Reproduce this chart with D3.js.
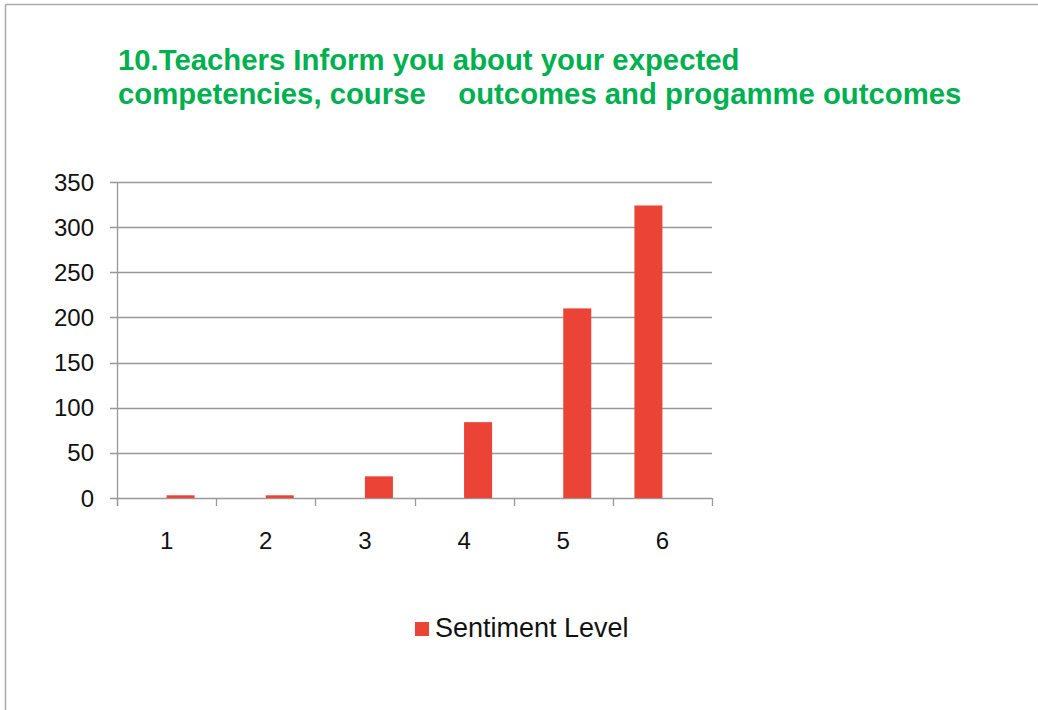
<!DOCTYPE html>
<html>
<head>
	<meta charset="utf-8" />
	<style type="text/css">
	*{margin:0px;padding:0px;}
	body{background:#fff;}
	text{font-family:"Liberation Sans", Arial, sans-serif;}
	</style>
</head>
<body>
	<script type="text/javascript" src="https://cdn.jsdelivr.net/npm/d3@7"></script>
	<script type="text/javascript">

		var categories = ["1", "2", "3", "4", "5", "6"];
		var values = [3, 3, 24, 84, 210, 324];
		var yTicks = [0, 50, 100, 150, 200, 250, 300, 350];
		var seriesName = "Sentiment Level";
		var titleLines = ["10.Teachers Inform you about your expected",
			"competencies, course    outcomes and progamme outcomes"];

		var W = 1038, H = 710;
		var svg = d3.select("body").append("svg").attr("width", W).attr("height", H);

		// outer frame (only top and left edges are visible)
		svg.append("line").attr("x1", 5.5).attr("x2", W).attr("y1", 4.5).attr("y2", 4.5)
			.attr("stroke", "#aaa").attr("stroke-width", 1.5);
		svg.append("line").attr("x1", 5.5).attr("x2", 5.5).attr("y1", 4.5).attr("y2", H)
			.attr("stroke", "#aaa").attr("stroke-width", 1.5);

		// title
		svg.selectAll(".title").data(titleLines).enter().append("text")
			.attr("x", 118)
			.attr("y", function(d, i){return 70 + i * 34})
			.attr("fill", "#00b050")
			.attr("font-size", 29.3)
			.attr("font-weight", "bold")
			.attr("xml:space", "preserve")
			.style("white-space", "pre")
			.text(function(d){return d});

		var plotL = 117, plotR = 712, plotT = 182, plotB = 498;
		var x = d3.scaleBand().domain(categories).range([plotL, plotR]);
		var y = d3.scaleLinear().domain([0, 350]).range([plotB, plotT]);

		// gridlines
		svg.selectAll(".grid").data(yTicks).enter().append("line")
			.attr("x1", plotL - 7).attr("x2", plotR)
			.attr("y1", function(d){return Math.round(y(d)) + 0.5})
			.attr("y2", function(d){return Math.round(y(d)) + 0.5})
			.attr("stroke", "#999").attr("stroke-width", 1.3);

		// y axis line
		svg.append("line").attr("x1", plotL + 0.5).attr("x2", plotL + 0.5)
			.attr("y1", plotT).attr("y2", plotB + 8)
			.attr("stroke", "#999").attr("stroke-width", 1.3);

		// x ticks
		var xt = categories.map(function(c){return x(c)}).concat([plotR]);
		svg.selectAll(".xtick").data(xt).enter().append("line")
			.attr("x1", function(d){return Math.round(d) + 0.5})
			.attr("x2", function(d){return Math.round(d) + 0.5})
			.attr("y1", plotB).attr("y2", plotB + 8)
			.attr("stroke", "#999").attr("stroke-width", 1.3);

		// y labels
		svg.selectAll(".ylab").data(yTicks).enter().append("text")
			.attr("x", 94)
			.attr("y", function(d){return y(d) + 8.5})
			.attr("text-anchor", "end")
			.attr("font-size", 24)
			.attr("fill", "#111")
			.text(function(d){return d});

		// x labels
		svg.selectAll(".xlab").data(categories).enter().append("text")
			.attr("x", function(d){return x(d) + x.bandwidth() / 2})
			.attr("y", 549)
			.attr("text-anchor", "middle")
			.attr("font-size", 24)
			.attr("fill", "#111")
			.text(function(d){return d});

		// bars (the last one sits left of its category centre, as in the original)
		var barW = 28;
		function barX(d, i)
		{
			var c = x(categories[i]) + x.bandwidth() / 2;
			return i == categories.length - 1 ? c - barW : c;
		}
		svg.selectAll(".bar").data(values).enter().append("rect")
			.attr("x", barX)
			.attr("y", function(d){return y(d)})
			.attr("width", barW)
			.attr("height", function(d){return plotB - y(d)})
			.attr("fill", "#eb4335");

		// legend
		svg.append("rect").attr("x", 415).attr("y", 622).attr("width", 14).attr("height", 14)
			.attr("fill", "#eb4335");
		svg.append("text").attr("x", 435).attr("y", 637)
			.attr("font-size", 27).attr("fill", "#111")
			.text(seriesName);

	</script>
</body>
</html>
